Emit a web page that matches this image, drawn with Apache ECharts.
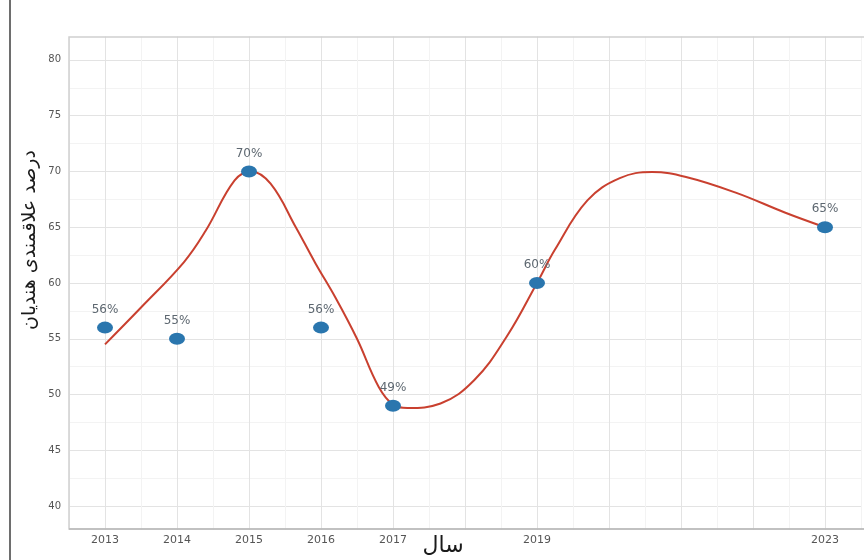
<!DOCTYPE html>
<html>
<head>
<meta charset="utf-8">
<script src="https://cdn.jsdelivr.net/npm/echarts@6/dist/echarts.min.js"></script>
<style>
html,body{margin:0;padding:0;background:#fff;}
#chart{width:864px;height:560px;}
</style>
</head>
<body>
<div id="chart"></div>
<script>
// ---- data ----
const years = [2013, 2014, 2015, 2016, 2017, 2019, 2023];
const values = [56, 55, 70, 56, 49, 60, 65];
const curveYears = [2013.0, 2013.5, 2014.1, 2014.4, 2014.8, 2015.03, 2015.3, 2015.65, 2015.92, 2016.2, 2016.5, 2016.8, 2017.0, 2017.2, 2017.66, 2018.13, 2018.58, 2019.0, 2019.25, 2019.7, 2020.15, 2020.6, 2021.07, 2021.76, 2022.45, 2023.0];
const curveValues = [54.5, 57.8, 61.9, 64.7, 69.2, 70.0, 68.9, 65.0, 61.8, 58.7, 55.0, 50.7, 49.1, 48.8, 49.2, 51.3, 55.2, 60.0, 63.0, 67.4, 69.4, 69.95, 69.5, 68.1, 66.3, 65.0];
const xTickLabels = ['2013', '2014', '2015', '2016', '2017', '2019', '2023'];
const yTickLabels = ['40', '45', '50', '55', '60', '65', '70', '75', '80'];
const yTitle = 'درصد علاقمندی هندیان';
const xTitle = 'سال';

const points = years.map((y, i) => [y, values[i]]);
const curve = curveYears.map((y, i) => [y, curveValues[i]]);

// split line colours: major at whole steps, minor in between
const yLineColors = [];
for (let i = 0; i < 19; i++) {
  if (i === 0 || i === 18) yLineColors.push('rgba(0,0,0,0)');
  else yLineColors.push(i % 2 === 1 ? '#e3e3e3' : '#f3f3f3');
}

const chart = echarts.init(document.getElementById('chart'));
chart.setOption({
  animation: false,
  backgroundColor: '#ffffff',
  grid: { left: 69, top: 32, width: 797.5, height: 502 },
  xAxis: {
    type: 'value', min: 2012.5, max: 2023.5, interval: 0.5,
    axisLine: { show: false }, axisTick: { show: false },
    axisLabel: {
      margin: 1, color: '#555', fontSize: 11, fontFamily: 'DejaVu Sans',
      formatter: v => xTickLabels.includes(String(v)) ? String(v) : ''
    },
    splitLine: { show: true, lineStyle: { color: ['#f3f3f3', '#e3e3e3'], width: 1 } }
  },
  yAxis: {
    type: 'value', min: 37.5, max: 82.5, interval: 2.5,
    axisLine: { show: false }, axisTick: { show: false },
    axisLabel: {
      margin: 8, color: '#555', fontSize: 10, fontFamily: 'DejaVu Sans',
      formatter: v => yTickLabels.includes(String(v)) ? String(v) : ''
    },
    splitLine: { show: true, lineStyle: { color: yLineColors, width: 1 } }
  },
  graphic: [
    { type: 'rect', shape: { x: 60, y: 30, width: 810, height: 6.5 }, style: { fill: '#ffffff' }, z: 1 },
    { type: 'rect', shape: { x: 60, y: 530, width: 810, height: 4.5 }, style: { fill: '#ffffff' }, z: 1 },
    { type: 'line', shape: { x1: 10, y1: 0, x2: 10, y2: 560 }, style: { stroke: '#6e6e6e', lineWidth: 2 }, z: 1 },
    { type: 'rect', shape: { x: 69, y: 37, width: 800, height: 492 }, style: { stroke: '#d0d0d0', fill: 'none', lineWidth: 1.5 }, z: 1 },
    { type: 'line', shape: { x1: 69, y1: 529, x2: 864, y2: 529 }, style: { stroke: '#b8b8b8', lineWidth: 1.5 }, z: 1 },
    { type: 'text', x: 30, y: 240, rotation: Math.PI / 2,
      style: { text: yTitle, fontSize: 19, fill: '#1a1a1a', fontFamily: 'DejaVu Sans', textAlign: 'center', textVerticalAlign: 'middle' }, z: 5 },
    { type: 'text', x: 443, y: 535,
      style: { text: xTitle, fontSize: 22, fill: '#1a1a1a', fontFamily: 'DejaVu Sans', textAlign: 'center', textVerticalAlign: 'top' }, z: 5 }
  ],
  series: [
    {
      type: 'line', data: curve, smooth: 0.4, showSymbol: false, z: 3,
      lineStyle: { color: '#c9402f', width: 2 }
    },
    {
      type: 'scatter', data: points, symbol: 'circle', symbolSize: [16, 12], z: 4,
      itemStyle: { color: '#2a76ae', opacity: 1 },
      label: {
        show: true, position: 'top', distance: 6, color: '#5d6770', fontSize: 12, fontFamily: 'DejaVu Sans',
        formatter: p => p.value[1] + '%'
      }
    }
  ]
});
</script>
</body>
</html>
